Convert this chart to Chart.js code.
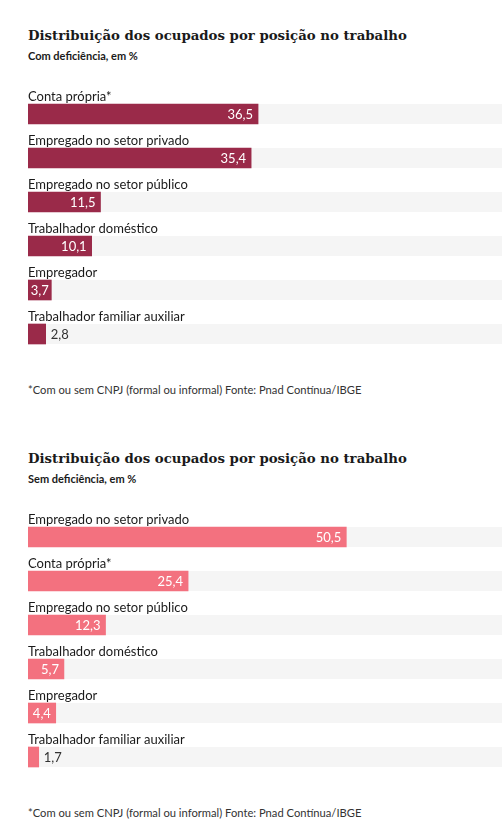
<!DOCTYPE html>
<html>
<head>
<meta charset="utf-8">
<script src="https://cdn.jsdelivr.net/npm/chart.js@4/dist/chart.umd.min.js"></script>
<style>
    body { margin: 0; background: #fff; width: 502px; height: 834px; overflow: hidden; position: relative; }
    .abs { position: absolute; left: 28px; white-space: nowrap; color: #1a1a1a; }
    .title { font-family: "DejaVu Serif", serif; font-weight: bold; font-size: 13.3px; line-height: 16px; }
    .sub { font-family: Lato, sans-serif; font-weight: bold; font-size: 11px; line-height: 12px; }
    .note { font-family: Lato, sans-serif; font-size: 11.2px; line-height: 12px; color: #333; }
    .chart { position: absolute; left: 28px; width: 474px; height: 274px; }
</style>
</head>
<body>

<div class="abs title" style="top: 28px;">Distribuição dos ocupados por posição no trabalho</div>
<div class="abs sub" style="top: 50px;">Com deficiência, em %</div>
<div class="chart" style="top: 82px;"><canvas id="chartCom"></canvas></div>
<div class="abs note" style="top: 384px;">*Com ou sem CNPJ (formal ou informal) Fonte: Pnad Contínua/IBGE</div>

<div class="abs title" style="top: 451px;">Distribuição dos ocupados por posição no trabalho</div>
<div class="abs sub" style="top: 473px;">Sem deficiência, em %</div>
<div class="chart" style="top: 505px;"><canvas id="chartSem"></canvas></div>
<div class="abs note" style="top: 807px;">*Com ou sem CNPJ (formal ou informal) Fonte: Pnad Contínua/IBGE</div>

<script>
    /* data */

    const labelsCom = ["Conta própria*", "Empregado no setor privado", "Empregado no setor público", "Trabalhador doméstico", "Empregador", "Trabalhador familiar auxiliar"];
    const valuesCom = [36.5, 35.4, 11.5, 10.1, 3.7, 2.8];

    const labelsSem = ["Empregado no setor privado", "Conta própria*", "Empregado no setor público", "Trabalhador doméstico", "Empregador", "Trabalhador familiar auxiliar"];
    const valuesSem = [50.5, 25.4, 12.3, 5.7, 4.4, 1.7];

    const axisMax = 75.2;

    const labelFont = '13px Lato, sans-serif';

    /* gray track behind every bar, category label above it, value at its end */

    const barDecor = {
        id: 'barDecor',
        beforeDatasetsDraw: function (chart) {
            var ctx = chart.ctx;
            var area = chart.chartArea;
            ctx.save();
            ctx.fillStyle = '#f5f5f5';
            chart.getDatasetMeta(0).data.forEach(function (bar) {
                ctx.fillRect(area.left, bar.y - bar.height / 2, area.right - area.left, bar.height);
            });
            ctx.restore();
        },
        afterDatasetsDraw: function (chart) {
            var ctx = chart.ctx;
            var area = chart.chartArea;
            var values = chart.data.datasets[0].data;
            ctx.save();
            ctx.font = labelFont;
            chart.getDatasetMeta(0).data.forEach(function (bar, i) {
                var top = bar.y - bar.height / 2;
                ctx.fillStyle = '#1a1a1a';
                ctx.textAlign = 'left';
                ctx.textBaseline = 'alphabetic';
                ctx.fillText(chart.data.labels[i], area.left, top - 3.5);

                var txt = values[i].toFixed(1).replace('.', ',');
                var w = ctx.measureText(txt).width;
                var barW = bar.x - area.left;
                ctx.textBaseline = 'middle';
                if (w + 4 < barW) {
                    var pad = Math.min(5, (barW - w) / 2);
                    ctx.fillStyle = '#ffffff';
                    ctx.textAlign = 'right';
                    ctx.fillText(txt, bar.x - pad, bar.y + 1);
                } else {
                    ctx.fillStyle = '#333333';
                    ctx.textAlign = 'left';
                    ctx.fillText(txt, bar.x + 5, bar.y + 1);
                }
            });
            ctx.restore();
        }
    };

    function drawChart(id, labels, values, color) {
        var ctx = document.getElementById(id).getContext('2d');
        return new Chart(ctx, {
            type: 'bar',
            data: {
                labels: labels,
                datasets: [{
                    data: values,
                    backgroundColor: color,
                    barThickness: 20,
                    borderWidth: 0
                }]
            },
            options: {
                indexAxis: 'y',
                responsive: true,
                maintainAspectRatio: false,
                animation: false,
                layout: { padding: { top: 10, left: 0, right: 0, bottom: 0 } },
                plugins: {
                    legend: { display: false },
                    tooltip: { enabled: false }
                },
                scales: {
                    x: { display: false, min: 0, max: axisMax },
                    y: { display: false }
                }
            },
            plugins: [barDecor]
        });
    }

    drawChart('chartCom', labelsCom, valuesCom, '#9a2a49');
    drawChart('chartSem', labelsSem, valuesSem, '#f3717f');
</script>
</body>
</html>
